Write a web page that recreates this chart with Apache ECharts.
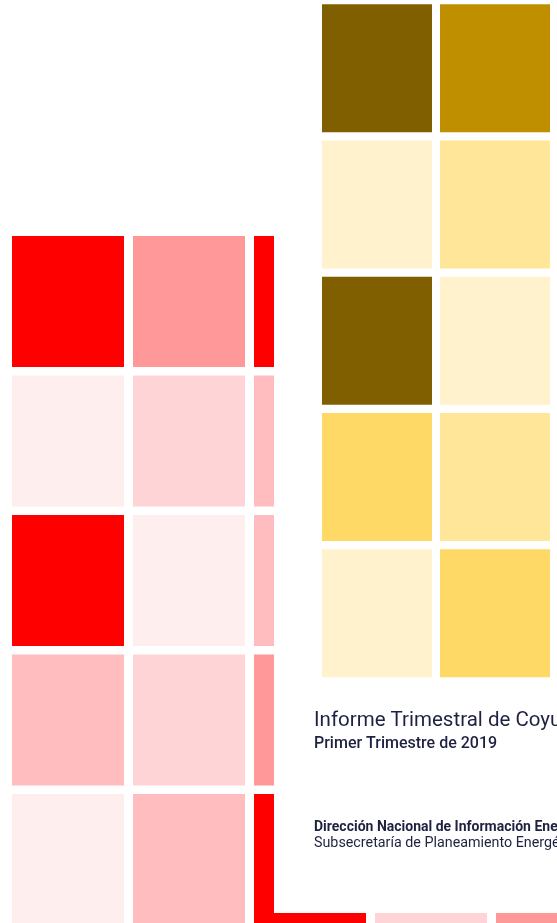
<!DOCTYPE html>
<html>
<head>
<meta charset="utf-8">
<script src="https://cdn.jsdelivr.net/npm/echarts@6/dist/echarts.min.js"></script>
<style>
  html, body { margin: 0; padding: 0; background: #ffffff; }
  #chart { width: 557px; height: 923px; }
</style>
</head>
<body>
<div id="chart"></div>
<script>
// ---- data ----
// column / row indices of the visible tiles and their intensity level (0 = lightest, 4 = darkest)
const redColumns = [0, 1, 2, 3, 4];
const redRowsIdx = [0, 1, 2, 3, 4];
// [column, row, level]
const redCells = [
  [0, 0, 4], [1, 0, 3], [2, 0, 4],
  [0, 1, 0], [1, 1, 1], [2, 1, 2],
  [0, 2, 4], [1, 2, 0], [2, 2, 2],
  [0, 3, 2], [1, 3, 1], [2, 3, 3],
  [0, 4, 0], [1, 4, 2], [2, 4, 4], [3, 4, 1], [4, 4, 3]
];
const goldColumns = [0, 1];
const goldRowsIdx = [0, 1, 2, 3, 4];
const goldCells = [
  [0, 0, 4], [1, 0, 3],
  [0, 1, 0], [1, 1, 1],
  [0, 2, 4], [1, 2, 0],
  [0, 3, 2], [1, 3, 1],
  [0, 4, 0], [1, 4, 2]
];
const titleText = 'Informe Trimestral de Coyuntura Energética';
const subtitleText = 'Primer Trimestre de 2019';
const orgText = 'Dirección Nacional de Información Energética';
const subOrgText = 'Subsecretaría de Planeamiento Energético';

// ---- styles ----
const redPalette = ['#FFEEEE', '#FFD4D6', '#FFBDBF', '#FF9999', '#FF0000'];
const goldPalette = ['#FFF2CC', '#FFE699', '#FFD966', '#BF8F00', '#7F5F00'];
const textColor = '#1e2240';

function cellRenderer(palette, gapX, gapY) {
  return function (params, api) {
    const c = api.coord([api.value(0), api.value(1)]);
    const s = api.size([1, 1]);
    return {
      type: 'rect',
      shape: {
        x: c[0] - s[0] / 2 + gapX / 2,
        y: c[1] - s[1] / 2 + gapY / 2,
        width: s[0] - gapX,
        height: s[1] - gapY
      },
      style: { fill: palette[api.value(2)] }
    };
  };
}

// red tiles: 121 px column pitch, 139.5 px row pitch, grid runs off the page edge
const redPitchX = 121, redPitchY = 139.5;
const redLeft = 7.5, redTop = 231.75;
const redW = 557 - redLeft, redH = 923 - redTop;
// gold tiles: 118 px column pitch, 136.25 px row pitch
const goldLeft = 318, goldTop = 0;
const goldW = goldColumns.length * 118, goldH = goldRowsIdx.length * 136.25;

const chart = echarts.init(document.getElementById('chart'), null, { renderer: 'canvas' });
chart.setOption({
  backgroundColor: '#ffffff',
  animation: false,
  grid: [
    { left: redLeft, top: redTop, width: redW, height: redH },
    { left: goldLeft, top: goldTop, width: goldW, height: goldH }
  ],
  xAxis: [
    { type: 'value', gridIndex: 0, show: false, min: redColumns[0] - 0.5, max: redColumns[0] - 0.5 + redW / redPitchX },
    { type: 'value', gridIndex: 1, show: false, min: goldColumns[0] - 0.5, max: goldColumns[goldColumns.length - 1] + 0.5 }
  ],
  yAxis: [
    { type: 'value', gridIndex: 0, show: false, inverse: true, min: redRowsIdx[0] - 0.5, max: redRowsIdx[0] - 0.5 + redH / redPitchY },
    { type: 'value', gridIndex: 1, show: false, inverse: true, min: goldRowsIdx[0] - 0.5, max: goldRowsIdx[goldRowsIdx.length - 1] + 0.5 }
  ],
  series: [
    {
      type: 'custom', xAxisIndex: 0, yAxisIndex: 0, z: 1,
      renderItem: cellRenderer(redPalette, 9, 8.5),
      data: redCells, silent: true
    },
    {
      type: 'custom', xAxisIndex: 1, yAxisIndex: 1, z: 5,
      renderItem: cellRenderer(goldPalette, 8, 8.25),
      data: goldCells, silent: true
    }
  ],
  graphic: [
    { type: 'rect', z: 3, silent: true, shape: { x: 274, y: 0, width: 300, height: 913 }, style: { fill: '#ffffff' } },
    { type: 'text', z: 6, left: 314, top: 710, style: { text: titleText, fill: textColor, font: '400 20.5px Roboto' } },
    { type: 'text', z: 6, left: 314, top: 736, style: { text: subtitleText, fill: textColor, font: '500 16px Roboto' } },
    { type: 'text', z: 6, left: 314, top: 820, style: { text: orgText, fill: textColor, font: '700 14px Roboto' } },
    { type: 'text', z: 6, left: 314, top: 836, style: { text: subOrgText, fill: textColor, font: '400 14.3px Roboto' } }
  ]
});
</script>
</body>
</html>
